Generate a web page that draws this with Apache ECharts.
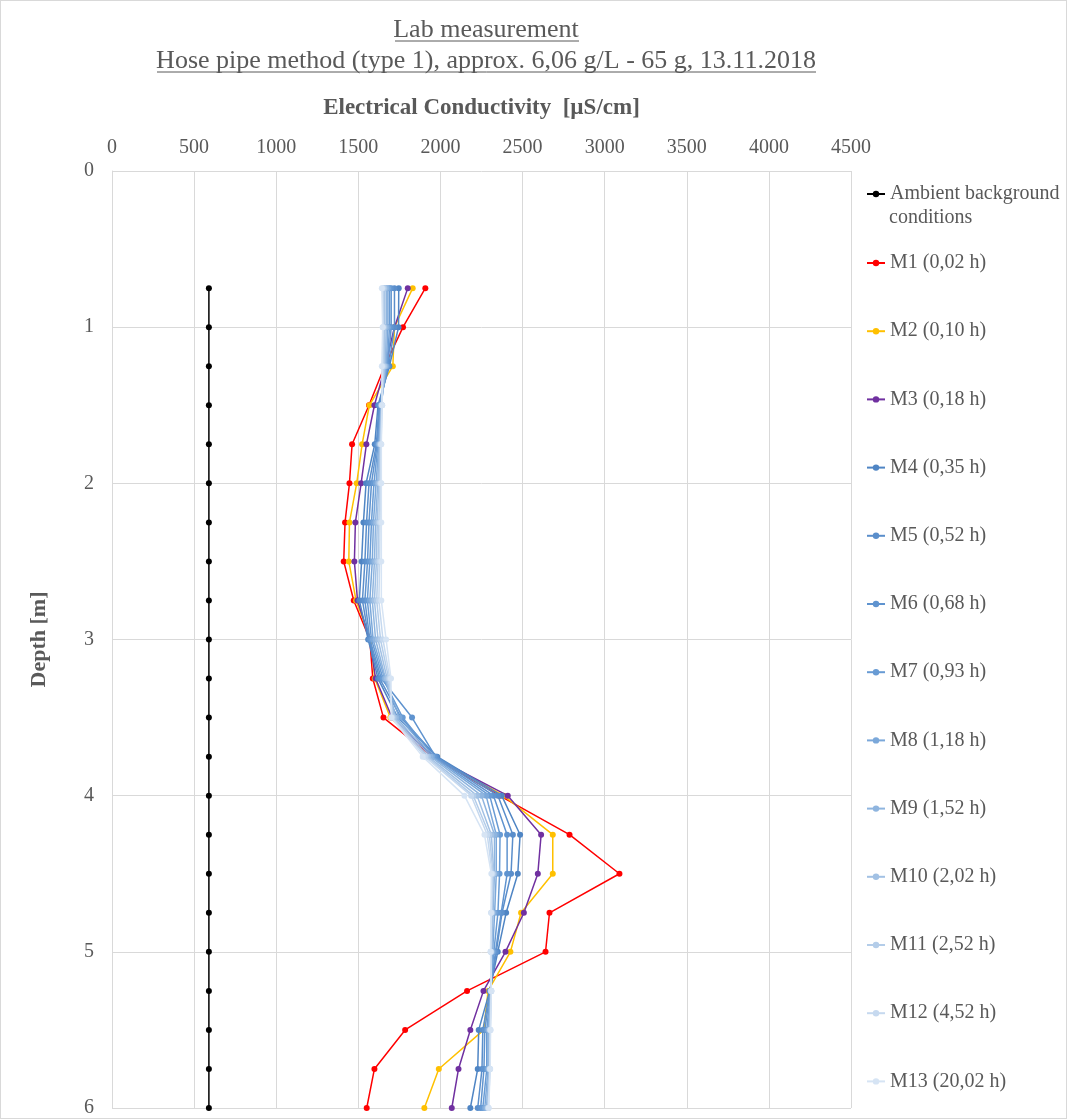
<!DOCTYPE html>
<html>
<head>
<meta charset="utf-8">
<script src="https://cdn.jsdelivr.net/npm/echarts@6/dist/echarts.min.js"></script>
<style>
html,body{margin:0;padding:0;background:#fff;}
#c{width:1067px;height:1119px;box-sizing:border-box;border:1px solid #d9d9d9;}
</style>
</head>
<body>
<div id="c"></div>
<script>
var depths = [0.75,1,1.25,1.5,1.75,2,2.25,2.5,2.75,3,3.25,3.5,3.75,4,4.25,4.5,4.75,5,5.25,5.5,5.75,6];
var xTicks = [0,500,1000,1500,2000,2500,3000,3500,4000,4500];
var yTicks = [0,1,2,3,4,5,6];

var seriesNames = ['Ambient background conditions','M1 (0,02 h)','M2 (0,10 h)','M3 (0,18 h)','M4 (0,35 h)','M5 (0,52 h)','M6 (0,68 h)','M7 (0,93 h)','M8 (1,18 h)','M9 (1,52 h)','M10 (2,02 h)','M11 (2,52 h)','M12 (4,52 h)','M13 (20,02 h)'];

var ambient = [590,590,590,590,590,590,590,590,590,590,590,590,590,590,590,590,590,590,590,590,590,590];
var m1  = [1908,1772,1660,1565,1462,1446,1419,1411,1472,1570,1588,1653,1950,2360,2786,3090,2664,2640,2162,1785,1598,1551];
var m2  = [1831,1720,1710,1567,1523,1490,1446,1442,1486,1575,1600,1695,1960,2385,2684,2684,2491,2426,2290,2264,1990,1902];
var m3  = [1801,1720,1664,1598,1549,1517,1482,1476,1495,1570,1605,1705,1955,2410,2613,2593,2508,2396,2262,2182,2110,2069];
var m4  = [1746,1745,1689,1620,1600,1547,1531,1520,1506,1560,1620,1740,1980,2373,2485,2471,2400,2349,2300,2233,2227,2182];
var m5  = [1720,1720,1685,1625,1610,1565,1550,1540,1525,1565,1630,1760,1975,2350,2441,2430,2375,2340,2302,2258,2253,2227];
var m6  = [1700,1700,1680,1630,1615,1580,1565,1556,1540,1570,1640,1827,1970,2323,2406,2406,2370,2335,2304,2270,2265,2245];
var m7  = [1690,1690,1675,1635,1620,1595,1580,1570,1555,1580,1650,1770,1960,2300,2363,2360,2350,2325,2305,2282,2282,2258];
var m8  = [1680,1680,1670,1638,1625,1608,1592,1585,1570,1590,1660,1750,1950,2278,2340,2340,2330,2318,2306,2290,2290,2270];
var m9  = [1670,1670,1665,1640,1628,1618,1605,1598,1585,1605,1665,1730,1940,2250,2329,2329,2320,2312,2307,2295,2295,2280];
var m10 = [1660,1660,1660,1642,1632,1625,1615,1610,1598,1620,1675,1720,1925,2223,2310,2325,2315,2310,2308,2300,2298,2288];
var m11 = [1655,1655,1655,1643,1635,1632,1625,1620,1612,1635,1685,1710,1915,2200,2298,2320,2312,2308,2309,2302,2300,2290];
var m12 = [1648,1650,1648,1645,1638,1636,1632,1630,1625,1650,1692,1705,1905,2187,2285,2315,2310,2306,2310,2304,2302,2292];
var m13 = [1643,1648,1643,1645,1640,1640,1640,1640,1640,1669,1699,1700,1892,2146,2268,2310,2308,2305,2310,2305,2303,2294];

var seriesValues = [ambient,m1,m2,m3,m4,m5,m6,m7,m8,m9,m10,m11,m12,m13];
var colors = ['#000000','#ff0000','#ffc000','#7030a0','#4f85c4','#5a8ecb','#5f93cf','#689bd4','#7ba8da','#8fb5df','#a2c1e4','#b4cde9','#c6d9ef','#d6e4f4'];

var FONT = '"Liberation Serif","Times New Roman",serif';
var GREY = '#595959';

var chart = echarts.init(document.getElementById('c'), null, {renderer:'canvas'});

var series = seriesValues.map(function(vals, i){
  return {
    name: seriesNames[i],
    type: 'line',
    data: vals.map(function(v, j){ return [v, depths[j]]; }),
    symbol: 'circle',
    symbolSize: 6,
    lineStyle: {width: 1.5, color: colors[i]},
    itemStyle: {color: colors[i]},
    emphasis: {disabled: true},
    animation: false,
    z: 2 + i
  };
});

var legendText = {fontFamily: FONT, fontSize: 20, color: GREY, lineHeight: 20};

var option = {
  animation: false,
  title: {
    text: 'Lab measurement\nHose pipe method (type 1), approx. 6,06 g/L - 65 g, 13.11.2018',
    left: 480, top: 9, textAlign: 'center',
    textStyle: {fontFamily: FONT, fontSize: 26, fontWeight: 'normal', color: GREY, lineHeight: 31}
  },
  graphic: [
    {type:'line', shape:{x1:394,y1:40,x2:578,y2:40}, style:{stroke:GREY, lineWidth:1}},
    {type:'line', shape:{x1:156,y1:71,x2:815,y2:71}, style:{stroke:GREY, lineWidth:1}},
    {type:'text', left: 888, top: 207, style:{text:'conditions', font: '20px ' + FONT, fill: GREY}}
  ],
  legend: [
    {
      data: [seriesNames[0]],
      orient: 'vertical', left: 865, top: 183, padding: 0,
      itemWidth: 18, itemHeight: 8,
      textStyle: legendText,
      formatter: function(){ return 'Ambient background'; },
      selectedMode: false
    },
    {
      data: seriesNames.slice(1),
      orient: 'vertical', left: 865, top: 252, padding: 0,
      itemWidth: 18, itemHeight: 8, itemGap: 48.2,
      textStyle: legendText,
      selectedMode: false
    }
  ],
  grid: {left: 111, top: 170, width: 739, height: 940, containLabel: false},
  xAxis: {
    type: 'value', position: 'top',
    min: xTicks[0], max: xTicks[xTicks.length-1], interval: 500,
    name: 'Electrical Conductivity  [µS/cm]', nameLocation: 'middle', nameGap: 51,
    nameTextStyle: {fontFamily: FONT, fontSize: 23, fontWeight: 'bold', color: GREY},
    axisLine: {show: false}, axisTick: {show: false},
    axisLabel: {fontFamily: FONT, fontSize: 20, color: GREY, margin: 13, formatter: function(v){ return String(v); }},
    splitLine: {show: true, lineStyle: {color: '#d9d9d9', width: 1}}
  },
  yAxis: {
    type: 'value', inverse: true,
    min: yTicks[0], max: yTicks[yTicks.length-1], interval: 1,
    name: 'Depth [m]', nameLocation: 'middle', nameGap: 62, nameRotate: 90,
    nameTextStyle: {fontFamily: FONT, fontSize: 22, fontWeight: 'bold', color: GREY},
    axisLine: {show: true, lineStyle: {color: '#d9d9d9'}}, axisTick: {show: false},
    axisLabel: {fontFamily: FONT, fontSize: 20, color: GREY, margin: 18},
    splitLine: {show: true, lineStyle: {color: '#d9d9d9', width: 1}}
  },
  series: series
};
chart.setOption(option);
</script>
</body>
</html>
